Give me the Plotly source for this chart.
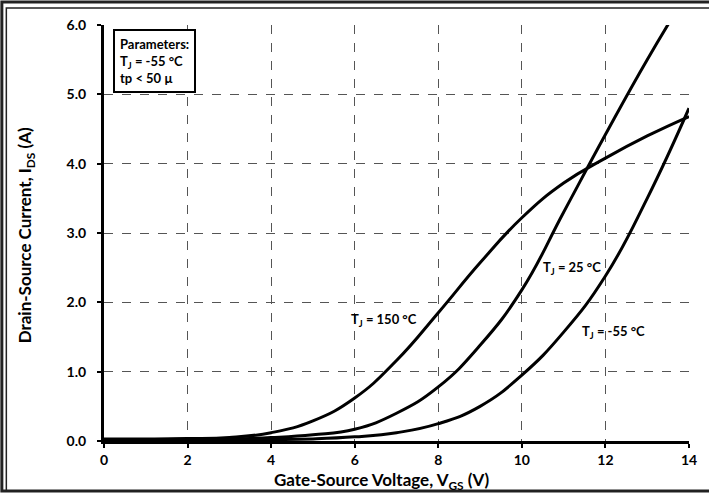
import plotly.graph_objects as go

# Gate-source voltage sweep (V)
vgs = [0, 1, 2, 3, 4, 5, 6, 7, 8, 9, 10, 11, 12, 13, 14]

# Drain-source current (A) at each junction temperature
ids_150c = [0.03, 0.03, 0.035, 0.05, 0.12, 0.29, 0.62, 1.16, 1.85, 2.57, 3.22, 3.72, 4.08, 4.40, 4.68]
ids_25c = [0.02, 0.02, 0.025, 0.03, 0.05, 0.09, 0.17, 0.40, 0.78, 1.38, 2.18, 3.30, 4.42, 5.50, 6.50]
ids_m55c = [0.01, 0.01, 0.01, 0.015, 0.02, 0.03, 0.06, 0.12, 0.25, 0.50, 0.95, 1.57, 2.38, 3.50, 4.80]

x_ticks = [0, 2, 4, 6, 8, 10, 12, 14]
y_ticks = [0.0, 1.0, 2.0, 3.0, 4.0, 5.0, 6.0]

FONT = "Lato"

fig = go.Figure()
for series in (ids_150c, ids_25c, ids_m55c):
    fig.add_trace(go.Scatter(
        x=vgs, y=series, mode="lines",
        line=dict(color="black", width=3, shape="spline", smoothing=1.3),
        showlegend=False, hoverinfo="skip",
    ))

axis_common = dict(
    showline=True, linecolor="black", linewidth=3,
    ticks="outside", ticklen=4, tickwidth=2, tickcolor="black",
    showgrid=True, gridcolor="#555555", gridwidth=1, griddash="dash",
    zeroline=False, mirror=False,
    tickfont=dict(family=FONT, size=14, color="black", weight="bold"),
)

fig.update_xaxes(range=[0, 14], tickvals=x_ticks,
                 ticktext=[str(v) for v in x_ticks], **axis_common)
fig.update_yaxes(range=[0, 6], tickvals=y_ticks,
                 ticktext=[f"{v:.1f}" for v in y_ticks],
                 ticklabelstandoff=8, **axis_common)

W, H = 709, 493
L, R, T, B = 104, 18, 25, 52
pw, ph = W - L - R, H - T - B


def px(xp):
    return (xp - L) / pw


def py(yp):
    return (H - B - yp) / ph


label_font = dict(family=FONT, size=13, color="black", weight="bold")
title_font = dict(family=FONT, size=17, color="black", weight="bold")

annotations = [
    dict(text="Parameters:<br>T<sub>J</sub> = -55 °C<br>tp < 50 µ",
         x=px(113), y=py(29), xref="paper", yref="paper",
         xanchor="left", yanchor="top",
         align="left", showarrow=False, font=label_font,
         bordercolor="black", borderwidth=2, borderpad=5, bgcolor="white"),
    dict(text="T<sub>J</sub> = 150 °C", x=7.55, y=1.75, xanchor="right",
         yanchor="middle", showarrow=False, font=label_font),
    dict(text="T<sub>J</sub> = 25 °C", x=10.45, y=2.5, xanchor="left",
         yanchor="middle", showarrow=False, font=label_font),
    dict(text="T<sub>J</sub> = -55 °C", x=11.4, y=1.57, xanchor="left",
         yanchor="middle", showarrow=False, font=label_font),
    dict(text="Gate-Source Voltage, V<sub>GS</sub> (V)",
         x=px(383), y=py(481), xref="paper", yref="paper",
         xanchor="center", yanchor="middle", showarrow=False,
         font=title_font),
    dict(text="Drain-Source Current, I<sub>DS</sub> (A)",
         x=px(26), y=py(235), xref="paper", yref="paper",
         xanchor="center", yanchor="middle", showarrow=False, textangle=-90,
         font=title_font),
]
for a in annotations:
    a.setdefault("xref", "x")
    a.setdefault("yref", "y")

# double page frame around the whole figure
shapes = [
    dict(type="rect", xref="paper", yref="paper",
         x0=px(1.5), x1=px(W + 5), y0=py(491), y1=py(2),
         line=dict(color="#222222", width=3), fillcolor="rgba(0,0,0,0)", layer="below"),
    dict(type="rect", xref="paper", yref="paper",
         x0=px(6), x1=px(W + 5), y0=py(491), y1=py(8),
         line=dict(color="#222222", width=1.5), fillcolor="rgba(0,0,0,0)", layer="below"),
]

fig.update_layout(
    width=W, height=H,
    margin=dict(l=L, r=R, t=T, b=B),
    paper_bgcolor="white", plot_bgcolor="white",
    annotations=annotations, shapes=shapes,
)

fig.write_html("out.html")
